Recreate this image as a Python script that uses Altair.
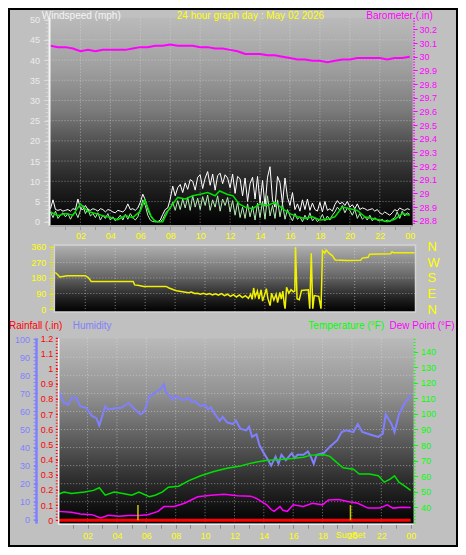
import json
import altair as alt
import pandas as pd

W, H = 450, 539
SX, SY = W / 466.0, H / 555.0


def px(r):
    return round(r * SX, 2)


def py(r):
    return round(r * SY, 2)


FONT = "Liberation Sans"

# ---------------- data ----------------
wind_hours = [i / 6 for i in range(145)]
gust = [
    3.2, 5.4, 3.0, 2.8, 3.0, 2.6,
    2.8, 3.0, 2.6, 3.2, 3.0, 5.6,
    3.2, 3.0, 4.0, 3.0, 2.8, 3.2,
    3.0, 2.6, 3.2, 3.0, 2.4, 3.0,
    2.8, 2.4, 2.2, 2.8, 2.6, 2.4,
    3.0, 4.4, 3.0, 3.2, 2.8, 3.4,
    4.8, 6.8, 5.4, 3.0, 1.6, 0.6,
    0.2, 0.0, 0.4, 1.8, 3.0, 3.4,
    5.6, 8.8, 6.4, 8.4, 9.2, 7.2,
    9.6, 8.0, 10.4, 10.0, 7.8, 11.0,
    11.6, 8.2, 10.8, 12.4, 9.0, 11.8,
    7.8, 11.4, 12.0, 9.4, 11.6, 10.8,
    8.4, 11.8, 7.0, 11.2, 10.6, 6.4,
    10.8, 5.0, 9.4, 11.0, 5.6, 11.2,
    4.6, 10.2, 3.8, 11.0, 13.6, 5.4,
    3.6, 11.2, 9.6, 4.4, 10.8, 6.0,
    4.0, 7.2, 3.0, 4.4, 2.6, 5.4,
    3.0, 5.6, 2.8, 4.6, 3.0, 2.6,
    4.8, 2.4, 5.0, 2.8, 3.2, 2.6,
    4.2, 5.2, 4.4, 4.8, 4.0, 5.0,
    3.6, 4.2, 3.2, 4.4, 3.0, 3.4,
    3.2, 2.8, 3.0, 3.2, 2.6, 3.0,
    2.2, 1.8, 2.4, 2.0, 1.6, 2.2,
    3.0, 2.6, 3.4, 3.0, 2.8, 3.2,
    3.0]
speed = [
    2.4, 1.0, 2.6, 0.8, 1.6, 2.2,
    1.2, 2.0, 0.6, 1.8, 2.4, 1.0,
    2.8, 4.0, 2.0, 3.2, 1.4, 2.0,
    1.0, 2.2, 0.4, 1.6, 0.8, 2.0,
    0.4, 1.2, 0.2, 0.8, 1.6, 0.4,
    1.8, 0.6, 2.0, 1.0, 0.4, 1.2,
    3.0, 5.4, 4.0, 1.6, 0.4, 0.0,
    0.0, 0.0, 0.0, 0.6, 2.0, 2.8,
    3.2, 4.8, 2.8, 5.2, 3.0, 5.6,
    3.4, 6.0, 2.8, 6.4, 3.6, 5.8,
    3.0, 6.2, 4.0, 6.6, 2.8, 5.4,
    3.6, 6.4, 2.6, 5.6, 4.0, 6.0,
    2.4, 5.2, 1.6, 4.8, 1.0, 3.6,
    0.8, 4.4, 1.2, 3.8, 0.4, 4.6,
    1.0, 5.0, 0.6, 6.4, 1.4, 4.0,
    0.8, 5.4, 1.2, 4.4, 0.6, 3.0,
    1.4, 0.2, 2.0, 0.6, 1.2, 0.0,
    1.6, 0.4, 2.2, 0.2, 1.0, 0.0,
    0.6, 1.8, 0.2, 1.4, 0.4, 1.6,
    2.4, 3.6, 2.8, 4.0, 2.2, 3.4,
    2.8, 1.6, 3.0, 0.8, 2.0, 0.6,
    1.2, 0.4, 1.6, 0.2, 1.0, 0.4,
    0.2, 0.6, 0.0, 0.4, 0.0, 0.6,
    1.0, 2.4, 0.8, 2.6, 1.4, 2.2,
    1.8]
avg_hours = [0, 0.5, 1, 1.5, 2, 2.5, 3, 3.5, 4, 4.5, 5, 5.5, 6, 6.3, 6.7, 7, 7.5, 7.9,
             8.5, 9, 9.5, 10, 10.5, 11, 11.3, 11.8, 12.2, 12.6, 13, 13.5, 14, 14.5, 15,
             15.5, 16, 16.5, 17, 17.5, 18, 18.5, 19, 19.5, 20, 20.5, 21, 21.5, 22, 22.5,
             23, 23.5, 24]
avg_speed = [2.4, 1.5, 2.0, 1.6, 4.4, 2.5, 2.0, 1.5, 1.0, 0.5, 1.5, 1.0, 2.6, 5.4, 1.5,
             0.0, 0.0, 3.0, 6.0, 5.6, 6.4, 6.8, 7.2, 6.4, 7.6, 6.8, 6.4, 4.4, 3.6, 3.2,
             4.4, 4.0, 4.8, 3.2, 2.0, 1.2, 0.8, 1.2, 0.4, 0.6, 1.2, 3.6, 3.2, 2.8, 1.2,
             0.8, 0.4, 0.0, 0.6, 2.0, 1.6]
baro_hours = [i / 2 for i in range(49)]
baro = [30.08, 30.07, 30.07, 30.06, 30.04, 30.05, 30.04, 30.05, 30.05, 30.05, 30.05,
        30.06, 30.07, 30.07, 30.08, 30.08, 30.09, 30.08, 30.08, 30.08, 30.07, 30.07,
        30.06, 30.06, 30.05, 30.04, 30.02, 30.02, 30.02, 30.01, 30.01, 30.00, 29.99,
        29.98, 29.98, 29.97, 29.97, 29.96, 29.97, 29.98, 29.98, 29.99, 29.99, 29.99,
        29.99, 29.98, 29.99, 29.99, 30.00]
dir_hours = [0.0, 0.15, 0.3, 0.6, 0.8, 2.0, 2.2, 2.4, 5.2, 5.3, 5.6, 5.9, 7.4, 7.6, 7.9,
             8.1, 8.4, 8.7, 8.9, 9.1, 9.3, 9.5, 9.7, 9.9, 10.1, 10.3, 10.5, 10.7, 10.9,
             11.1, 11.3, 11.5, 11.7, 11.9, 12.1, 12.3, 12.5, 12.7, 12.9, 13.05, 13.15,
             13.25, 13.35, 13.5, 13.6, 13.75, 13.85, 14.0, 14.1, 14.2, 14.35, 14.45, 14.6,
             14.75, 14.85, 15.0, 15.1, 15.2, 15.3, 15.35, 15.45, 15.6, 15.75, 15.9, 16.0,
             16.05, 16.15, 16.3, 16.45, 16.9, 17.0, 17.1, 17.2, 17.3, 17.6, 17.75, 17.85,
             18.0, 18.1, 18.3, 18.5, 18.7, 19.5, 20.4, 20.5, 20.9, 21.0, 22.4, 22.5, 22.6,
             24.0]
dir_deg = [212, 200, 186, 190, 193, 193, 182, 160, 160, 140, 137, 131, 131, 122, 112,
           106, 102, 97, 94, 98, 90, 92, 86, 91, 84, 90, 82, 88, 80, 89, 78, 86, 74, 84,
           70, 82, 66, 78, 62, 86, 56, 122, 70, 104, 58, 112, 46, 88, 118, 62, 20, 92,
           52, 86, 38, 96, 58, 104, 26, 2, 126, 92, 112, 100, 104, 360, 60, 54, 108, 112,
           2, 323, 2, 78, 74, 2, 338, 325, 342, 322, 310, 284, 281, 282, 295, 300, 318,
           321, 332, 326, 326]
hum_hours = [0.0, 0.1, 0.4, 0.7, 0.9, 1.2, 1.5, 1.9, 2.3, 2.6, 2.8, 2.9, 3.2, 3.4, 3.8,
             4.3, 4.8, 5.1, 5.6, 5.8, 6.0, 6.2, 6.7, 7.0, 7.2, 7.3, 7.8, 8.0, 8.2, 8.5,
             8.9, 9.1, 9.3, 9.7, 10.0, 10.2, 10.4, 10.6, 11.0, 11.2, 11.5, 11.9, 12.1,
             12.4, 12.8, 13.0, 13.2, 13.5, 13.7, 14.0, 14.3, 14.5, 14.8, 15.0, 15.2, 15.5,
             15.9, 16.1, 16.3, 16.7, 17.0, 17.2, 17.4, 17.6, 18.1, 18.5, 19.0, 19.3, 19.6,
             20.1, 20.4, 20.7, 21.4, 21.8, 22.1, 22.3, 22.7, 22.9, 23.2, 23.6, 23.8, 24.0]
humidity = [71, 70, 64.7, 63.8, 67.4, 67.9, 62.9, 62, 57.5, 56.3, 52.2, 54.8, 62.9, 61.1,
            61.6, 62, 64.7, 62, 58.4, 59.3, 62.9, 68.3, 71, 72.7, 75.1, 71, 66.5, 68.6,
            67.4, 66.2, 67.4, 65.4, 65.6, 62.9, 63.8, 61.1, 62.4, 59.3, 54.8, 57, 53.9, 53,
            55, 50.4, 49.5, 51.6, 45.9, 47.4, 41.4, 36.9, 33, 30, 35, 31, 36, 33, 36.9,
            34.2, 36, 36, 37.8, 35, 31, 36, 37, 40.5, 44.1, 48.6, 49.5, 48.6, 53, 48.6,
            46.8, 45.9, 47.7, 58.4, 53, 48.6, 58.4, 64.7, 66.5, 69.2]
temp_hours = [0, 0.4, 0.9, 1.8, 2.4, 2.8, 3.2, 3.8, 4.4, 5.0, 5.5, 6.2, 6.6, 7.1, 7.5,
              8.2, 8.9, 9.7, 10.6, 11.5, 12.4, 13.2, 14.1, 14.9, 15.9, 16.7, 17.2, 18.1,
              18.5, 19.0, 19.4, 20.1, 20.5, 21.2, 21.8, 22.2, 22.6, 22.9, 23.2, 23.7, 24]
temperature = [48.3, 49.8, 48.8, 49.8, 50.8, 52.5, 47.7, 49.8, 48.8, 47.7, 49.8, 46.7,
               47.7, 49.8, 52.9, 53.5, 57.1, 60.2, 62.9, 65, 66.5, 68.5, 70, 70.6, 71.3,
               72.1, 73.5, 73.7, 72.7, 68.5, 65.4, 64.4, 61.3, 61.3, 60.2, 56.1, 58.1,
               60.2, 56.1, 52.9, 50.8]
dew_hours = [0, 0.9, 1.5, 2.3, 2.9, 3.4, 4.1, 4.8, 5.5, 6.1, 6.8, 7.2, 7.9, 8.6, 9.5,
             10.4, 11.3, 12.2, 13.1, 13.5, 14.2, 14.5, 14.7, 15.1, 15.3, 15.6, 16.0, 16.7,
             17.3, 18.0, 18.4, 19.1, 19.7, 20.4, 21.1, 21.9, 22.4, 22.8, 23.4, 24]
dew_point = [37.3, 36.7, 35.6, 35.2, 33.1, 34.8, 34.2, 34.6, 34.6, 35.2, 37.3, 40.4, 40.4,
             42.5, 46.7, 47.7, 48.3, 47.3, 47.1, 45.6, 41.5, 38.5, 37.3, 40.4, 38, 37.3,
             41.5, 40.4, 42.5, 41.5, 44.6, 45, 43.6, 42.5, 39.4, 39.4, 41.5, 39.4, 40, 39.8]
rain_hours = [0, 24]
rainfall = [0.0, 0.0]
sun_hours = [5.43, 19.9]
sun_names = ["Sunrise", "SunSet"]

hour_ticks = list(range(1, 25))
grid_hours = list(range(2, 24, 2))
wind_ticks = list(range(0, 51, 5))
baro_ticks = [round(28.8 + 0.1 * i, 1) for i in range(15)]
dir_ticks = [0, 90, 180, 270, 360]
compass = ["N", "E", "S", "W", "N"]
rain_ticks = [round(0.1 * i, 1) for i in range(13)]
hum_ticks = list(range(0, 101, 10))
temp_ticks = list(range(40, 141, 10))

# minor tick positions
wind_minor = list(range(0, 51))
baro_minor = [round(28.78 + 0.02 * i, 2) for i in range(76)]
dir_minor = list(range(0, 361, 15))
rain_minor = [round(0.02 * i, 2) for i in range(61)]
hum_minor = list(range(0, 101, 2))
temp_minor = list(range(30, 149, 2))


# ---------------- helpers ----------------
def S(dom, a, b):
    return alt.Scale(domain=dom, range=[a, b], nice=False, zero=False)


X1 = S([0, 24], px(44), px(416))
YW = S([0, 50], py(220), py(12))
YB = S([28.8, 30.2], py(219), py(22))
X2 = S([0, 24], px(49), px(421))
YD = S([0, 360], py(310), py(246))
X3 = S([0, 24], px(52), px(417))
YR = S([0, 1.2], py(527.5), py(340))
YH = S([0, 100], py(527), py(341))
YT = S([40, 140], py(514), py(354))

one = pd.DataFrame({"k": [0]})


def axis(**kw):
    base = dict(title=None, grid=False, domain=False, labelFont=FONT, labelFontSize=9,
                labelOverlap=False, labelFlush=False, labelBound=False)
    base.update(kw)
    return alt.Axis(**base)


def grad_rect(x0, x1, y0, y1, stops):
    g = alt.Gradient(gradient="linear", x1=0, x2=0, y1=0, y2=1,
                     stops=[alt.GradientStop(offset=o, color=c) for o, c in stops])
    return alt.Chart(one).mark_rect(color=g).encode(
        x=alt.value(px(x0)), x2=alt.value(px(x1)), y=alt.value(py(y0)), y2=alt.value(py(y1)))


def hline(x0, x1, y, color, w=1.0):
    return alt.Chart(one).mark_rule(color=color, strokeWidth=w).encode(
        x=alt.value(px(x0)), x2=alt.value(px(x1)), y=alt.value(py(y)))


def vline(x, y0, y1, color, w=1.0):
    return alt.Chart(one).mark_rule(color=color, strokeWidth=w).encode(
        x=alt.value(px(x)), y=alt.value(py(y0)), y2=alt.value(py(y1)))


def text(s, x, y, color, size=10, align="left"):
    return alt.Chart(one).mark_text(text=s, align=align, baseline="middle", font=FONT,
                                    fontSize=size, color=color).encode(
        x=alt.value(px(x)), y=alt.value(py(y)))


GRID = dict(color="#e8e8e8", strokeDash=[1, 2], strokeWidth=1, opacity=0.5)


def vgrid(xs, y0, y1):
    return alt.Chart(pd.DataFrame({"h": grid_hours})).mark_rule(**GRID).encode(
        x=alt.X("h:Q", scale=xs, axis=None), y=alt.value(py(y0)), y2=alt.value(py(y1)))


def hgrid(vals, ys, x0, x1, ax=None):
    return alt.Chart(pd.DataFrame({"v": vals})).mark_rule(**GRID).encode(
        y=alt.Y("v:Q", scale=ys, axis=ax), x=alt.value(px(x0)), x2=alt.value(px(x1)))


def minor(vals, ys, x0, x1, color, w=1.0):
    return alt.Chart(pd.DataFrame({"v": vals})).mark_rule(color=color, strokeWidth=w).encode(
        y=alt.Y("v:Q", scale=ys, axis=None), x=alt.value(px(x0)), x2=alt.value(px(x1)))


def line(hours, vals, xs, ys, color, width, xaxis=None, yaxis=None):
    df = pd.DataFrame({"h": hours, "v": vals})
    return alt.Chart(df).mark_line(color=color, strokeWidth=width).encode(
        x=alt.X("h:Q", scale=xs, axis=xaxis), y=alt.Y("v:Q", scale=ys, axis=yaxis))


XLAB = ("datum.value % 2 != 0 ? '' : (datum.value == 24 ? '00' : "
        "(datum.value < 10 ? '0' + datum.value : '' + datum.value))")
DEC = "format(datum.value, '.1~f')"
COMPASS = "%s[round(datum.value / 90)]" % json.dumps(compass)

layers = []

# ---------- panel 1 : wind + barometer ----------
layers.append(grad_rect(43, 419, 10, 224.5, [(0, "#bababa"), (0.25, "#9e9e9e"),
                                              (0.45, "#7a7a7a"), (0.62, "#4a4a4a"),
                                              (0.8, "#222222"), (1, "#000000")]))
layers.append(vgrid(X1, 10, 224))
layers.append(hgrid(list(range(5, 50, 5)), YW, 43, 419))
layers.append(line(wind_hours, gust, X1, YW, "#ffffff", 1,
                   xaxis=axis(orient="bottom", offset=py(225) - H, values=hour_ticks,
                              labelExpr=XLAB, labelColor="#ffff00", tickColor="#9a9a9a",
                              tickSize=3, labelPadding=2),
                   yaxis=axis(orient="left", offset=-px(42), values=wind_ticks,
                              labelColor="#ececec", tickColor="#dcdcdc", tickSize=5,
                              labelPadding=4)))
layers.append(line(wind_hours, speed, X1, YW, "#b4ecb4", 1))
layers.append(line(avg_hours, avg_speed, X1, YW, "#00e000", 1.5))
layers.append(line(baro_hours, baro, X1, YB, "#ff00ff", 2,
                   yaxis=axis(orient="right", offset=px(419.5) - W, values=baro_ticks,
                              labelExpr=DEC, labelColor="#ff00ff", tickColor="#ff00ff",
                              tickSize=4, labelPadding=2)))
layers.append(minor(wind_minor, YW, 39, 42, "#d8d8d8"))
layers.append(minor(baro_minor, YB, 419.5, 421.5, "#ff00ff"))
layers.append(vline(43, 10, 224.5, "#f4f4f4", 2))
layers.append(hline(43, 419, 224.5, "#a8a8a8", 2))

# ---------- panel 2 : wind direction ----------
layers.append(grad_rect(48, 422, 244, 313, [(0, "#b2b2b2"), (0.45, "#6a6a6a"),
                                             (0.8, "#202020"), (1, "#000000")]))
layers.append(vgrid(X2, 244, 313))
layers.append(hgrid([90, 180, 270], YD, 48, 422,
                    ax=axis(orient="right", offset=px(422) - W, values=dir_ticks,
                            labelExpr=COMPASS, labelColor="#ffff00", labelFontSize=13,
                            ticks=False, labelPadding=px(12))))
layers.append(line(dir_hours, dir_deg, X2, YD, "#f0f000", 1.5,
                   yaxis=axis(orient="left", offset=-px(47.5), values=dir_ticks,
                              labelColor="#ffff00", tickColor="#e8e800", tickSize=5,
                              labelPadding=3)))
layers.append(minor(dir_minor, YD, 44, 46.5, "#e8e800"))
layers.append(alt.Chart(one).mark_rect(fillOpacity=0, stroke="#d4d4d4", strokeWidth=1.5).encode(
    x=alt.value(px(48)), x2=alt.value(px(422)), y=alt.value(py(244)), y2=alt.value(py(313))))

# ---------- panel 3 : rain, humidity, temperature, dew point ----------
layers.append(grad_rect(52, 420, 340, 531, [(0, "#bababa"), (0.3, "#929292"),
                                             (0.55, "#5c5c5c"), (0.78, "#2a2a2a"),
                                             (1, "#000000")]))
layers.append(vgrid(X3, 340, 531))
layers.append(hgrid(list(range(10, 100, 10)), YH, 52, 420))
layers.append(line(hum_hours, humidity, X3, YH, "#8080ff", 2,
                   yaxis=axis(orient="left", offset=-px(30.5), values=hum_ticks,
                              labelColor="#8080ff", tickColor="#8080ff", tickSize=4,
                              labelPadding=4)))
layers.append(line(temp_hours, temperature, X3, YT, "#00e000", 1.5,
                   yaxis=axis(orient="right", offset=px(420) - W, values=temp_ticks,
                              labelColor="#00ff00", tickColor="#00ff00", tickSize=4,
                              labelPadding=3)))
layers.append(line(dew_hours, dew_point, X3, YT, "#ff00ff", 1.5))
layers.append(line(rain_hours, rainfall, X3, YR, "#ff0000", 3,
                   xaxis=axis(orient="bottom", offset=py(531.5) - H, values=hour_ticks,
                              labelExpr=XLAB, labelColor="#ffff00", tickColor="#8c8c8c",
                              tickSize=4, labelPadding=3),
                   yaxis=axis(orient="left", offset=-px(52.5), values=rain_ticks,
                              labelExpr=DEC, labelColor="#ff0000", tickColor="#ff0000",
                              tickSize=3, labelPadding=3)))
sun_df = pd.DataFrame({"h": sun_hours, "r0": [0.0, 0.0], "r1": [0.1, 0.1], "t": sun_names})
layers.append(alt.Chart(sun_df).mark_rule(color="#c8c800", strokeWidth=1.5).encode(
    x=alt.X("h:Q", scale=X3, axis=None), y=alt.Y("r0:Q", scale=YR, axis=None), y2="r1:Q"))
layers.append(alt.Chart(sun_df.iloc[1:]).mark_text(color="#ffff00", font=FONT, fontSize=9,
                                                   baseline="middle").encode(
    x=alt.X("h:Q", scale=X3, axis=None), y=alt.value(py(543)), text="t:N"))
layers.append(minor(hum_minor, YH, 26.5, 29, "#8080ff"))
layers.append(minor(rain_minor, YR, 49.5, 51.5, "#ff0000"))
layers.append(minor(temp_minor, YT, 420, 422, "#00ff00"))
layers.append(vline(29.5, 340, 531, "#8080ff", 2.5))
layers.append(vline(52.5, 340, 531.5, "#f0f0f0", 1.5))
layers.append(hline(52, 420, 531.5, "#f0f0f0", 1.5))

# ---------- titles ----------
layers.append(text("Windspeed (mph)", 35, 8, "#f4f4f4"))
layers.append(text("24 hour graph day : May 02 2026", 251, 8, "#ffff00", align="center"))
layers.append(text("Barometer (.in)", 371, 8, "#ff00ff"))
layers.append(text("Rainfall (.in)", 1, 327, "#ff0000"))
layers.append(text("Humidity", 67, 327, "#8080ff"))
layers.append(text("Temperature (°F)", 311, 327, "#00ff00"))
layers.append(text("Dew Point (°F)", 395, 327, "#ff00ff"))

# outer border
layers.append(alt.Chart(one).mark_rect(fillOpacity=0, stroke="#000000", strokeWidth=2).encode(
    x=alt.value(1), x2=alt.value(W - 1), y=alt.value(1), y2=alt.value(H - 1)))

chart = alt.layer(*layers).resolve_scale(x="independent", y="independent").properties(
    width=W, height=H, padding=0, background="#c0c0c0",
    autosize=alt.AutoSizeParams(type="none"),
).configure_view(stroke="transparent")

chart.save("out.html", embed_options={"renderer": "svg", "actions": False})
